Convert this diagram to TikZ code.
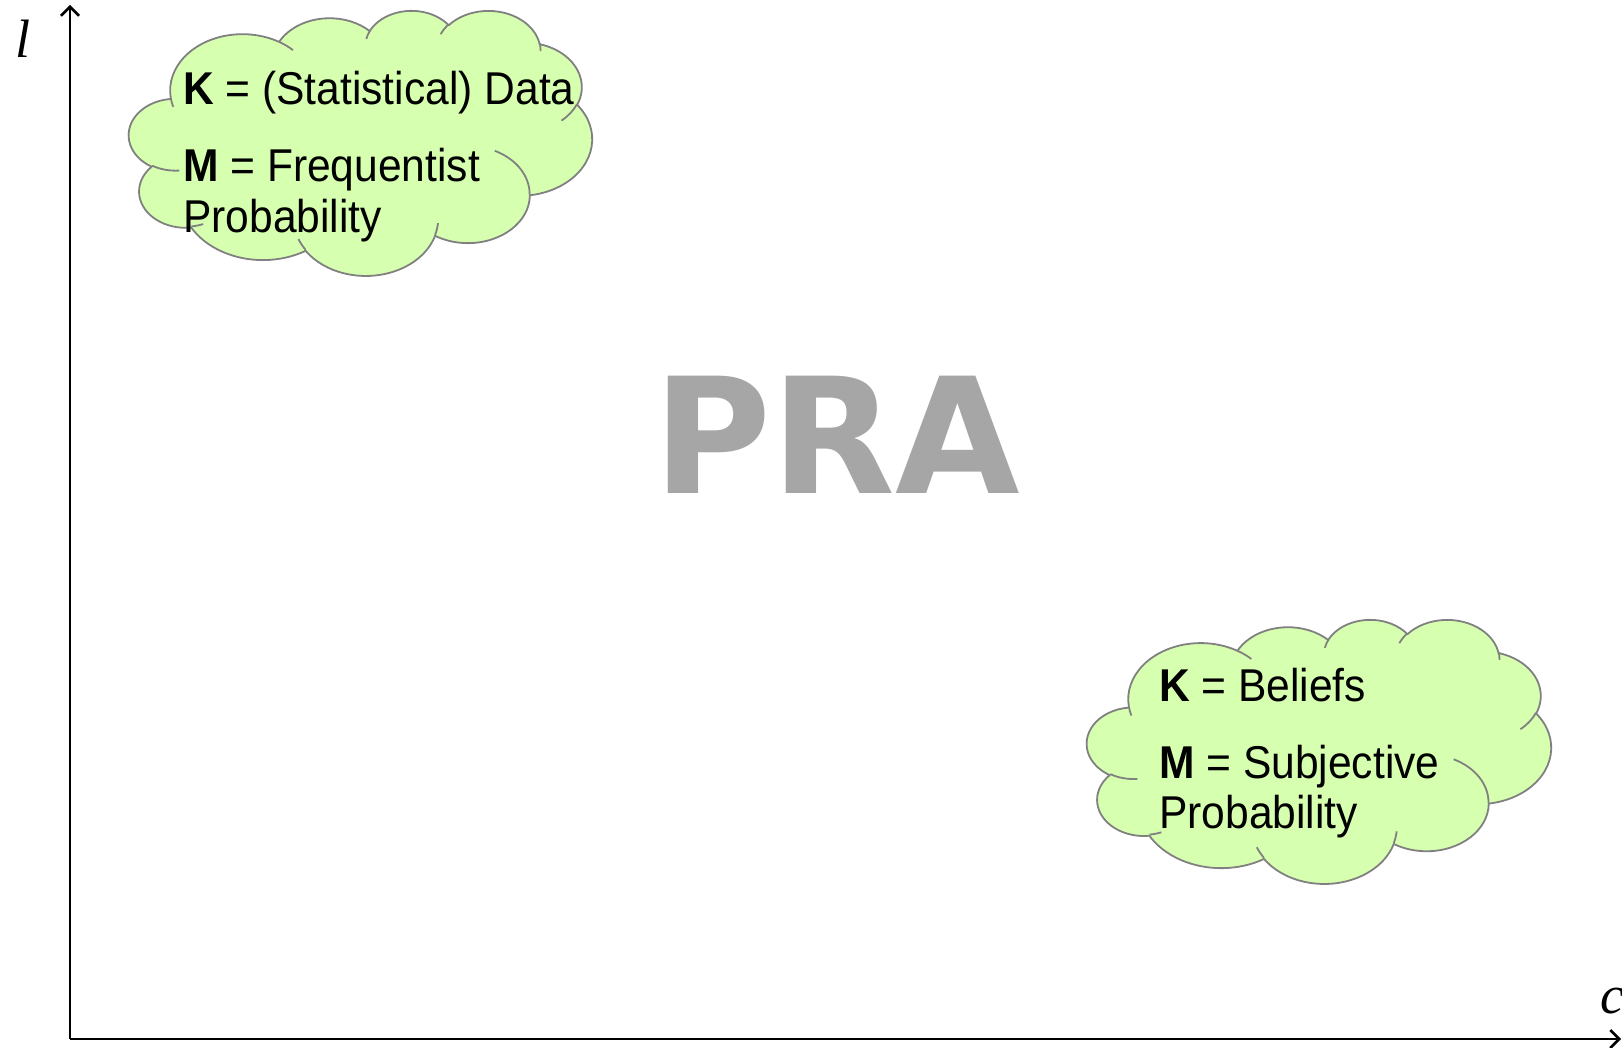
\documentclass[tikz,border=0pt]{standalone}
\usepackage{fontspec}
\setmainfont[FakeStretch=0.925]{Liberation Sans}
\newfontfamily\prafont{DejaVu Sans}
\newfontfamily\axisfont{Liberation Serif}
\usepackage{tikz}
\usetikzlibrary{arrows.meta}
\definecolor{cloudgreen}{HTML}{D7FFB0}
\definecolor{cloudline}{HTML}{808080}
\definecolor{pragray}{HTML}{A6A6A6}

% one lobe of the cloud: x radius, y radius, start angle, sweep (seen angles)
\newcommand{\lobe}[4]{arc[x radius=#1, y radius=#2,
  start angle={atan2(#1*sin(#3),#2*cos(#3))},
  delta angle={mod(atan2(#1*sin(#3+#4),#2*cos(#3+#4))-atan2(#1*sin(#3),#2*cos(#3))+720,360)}]}

% cloud in a 432 x 432 box
\newcommand{\pracloud}{%
  \fill[cloudgreen] (39.00,143.70) \lobe{67.53}{91.90}{-190.48748}{123.78053}
    \lobe{53.33}{72.67}{-144.10238}{89.94523} \lobe{43.65}{59.45}{-145.80792}{99.72302}
    \lobe{48.57}{65.95}{-130.98607}{117.24173} \lobe{53.33}{72.73}{-78.70888}{109.02692}
    \lobe{67.75}{92.20}{-46.26725}{130.269} \lobe{57.85}{78.67}{0.62502}{114.03333}
    \lobe{67.52}{92.15}{22.4516}{115.17255} \lobe{77.20}{105.43}{66.24263}{75.71102}
    \lobe{43.60}{59.18}{-274.94208}{146.73557} \lobe{43.45}{59.45}{-246.8285}{152.51885} -- cycle;
  \draw[cloudedge] (39.00,143.70) \lobe{67.53}{91.90}{-190.48748}{123.78053}
    \lobe{53.33}{72.67}{-144.10238}{89.94523} \lobe{43.65}{59.45}{-145.80792}{99.72302}
    \lobe{48.57}{65.95}{-130.98607}{117.24173} \lobe{53.33}{72.73}{-78.70888}{109.02692}
    \lobe{67.75}{92.20}{-46.26725}{130.269} \lobe{57.85}{78.67}{0.62502}{114.03333}
    \lobe{67.52}{92.15}{22.4516}{115.17255} \lobe{77.20}{105.43}{66.24263}{75.71102}
    \lobe{43.60}{59.18}{-274.94208}{146.73557} \lobe{43.45}{59.45}{-246.8285}{152.51885} -- cycle;
  % inner arcs
  \draw[cloudedge] (46.93,261.77) \lobe{43.45}{59.45}{86.742}{26.4295}
    (69.28,348.99) \lobe{43.60}{59.18}{73.61047}{11.44747}
    (164.78,390.90) \lobe{67.52}{92.15}{137.62415}{14.0811}
    (288.27,347.51) \lobe{67.52}{92.15}{6.45327}{15.99835}
    (341.29,229.54) \lobe{57.85}{78.67}{-70.29235}{70.91737}
    (417.98,153.54) \lobe{53.33}{72.73}{30.31803}{27.7515}
    (383.24,54.26) \lobe{48.57}{65.95}{-13.74433}{14.8589}
    (290.78,39.52) \lobe{48.57}{65.95}{-149.18145}{18.19537}
    (221.41,47.20) \lobe{43.65}{59.45}{-163.49427}{17.68635}
    (140.00,51.92) \lobe{67.53}{91.90}{-66.70695}{12.31935}
    (41.27,157.89) \lobe{67.53}{91.90}{157.65435}{11.85817};
}

\tikzset{
  cloudedge/.style={draw=cloudline, line width=1.8pt, line join=round},
  kmtext/.style={anchor=base west, inner sep=0pt, font=\fontsize{46}{51}\selectfont},
  axislabel/.style={inner sep=0pt, font=\axisfont\itshape\fontsize{54}{54}\selectfont},
}

\begin{document}
\begin{tikzpicture}[x=1pt, y=-1pt]
			\useasboundingbox (0,0) rectangle (1622,1048);
			\coordinate (origin) at (70,1039);
			\coordinate (ytip) at (70,5);
			\coordinate (xtip) at (1621,1039);
			\draw[line width=2.5pt, -{Straight Barb[length=9pt,width=18pt]}] (origin) -- (ytip);
			\draw[line width=2.5pt, -{Straight Barb[length=9pt,width=18pt]}] (origin) -- (xtip);
			\node[axislabel, anchor=base] (ylabel) at (23,58) {l};
			\node[axislabel, anchor=base west] (xlabel) at (1600,1013) {c};
			% frequentist cloud
			\begin{scope}[shift={(129,10)}, x=1.0718pt, y=-0.6134pt]
				\pracloud
			\end{scope}
			\node[kmtext] (freqk) at (183,105) {\textbf{K} = (Statistical) Data};
			\node[kmtext] (freqm) at (183,182) {\textbf{M} = Frequentist};
			\node[kmtext] (freqp) at (183,233) {Probability};
			% subjective cloud
			\begin{scope}[shift={(1087,619)}, x=1.0741pt, y=-0.6111pt]
				\pracloud
			\end{scope}
			\node[kmtext] (subjk) at (1159,701) {\textbf{K} = Beliefs};
			\node[kmtext] (subjm) at (1159,778) {\textbf{M} = Subjective};
			\node[kmtext] (subjp) at (1159,828) {Probability};
			\node[text=pragray, font=\prafont\bfseries\fontsize{161}{162}\selectfont] (pra) at (837,435) {PRA};
		\end{tikzpicture}
\end{document}
